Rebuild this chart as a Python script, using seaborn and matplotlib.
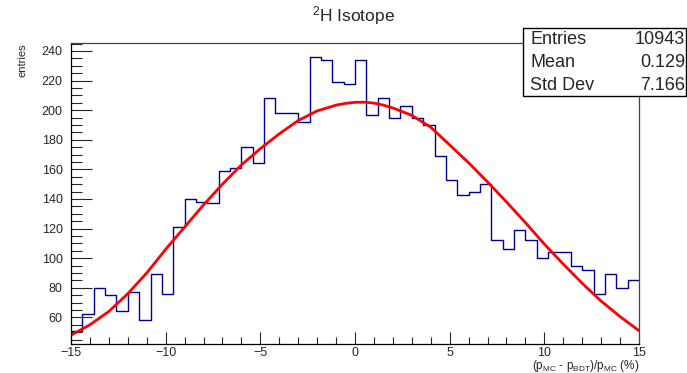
import numpy as np
import pandas as pd
import matplotlib
matplotlib.use("Agg")
import matplotlib.pyplot as plt
from matplotlib.ticker import MultipleLocator
from matplotlib.patches import Rectangle
import seaborn as sns

sns.set_style("ticks")
plt.rcParams['font.family'] = ['Liberation Sans', 'DejaVu Sans']
plt.rcParams['mathtext.fontset'] = 'custom'
plt.rcParams['mathtext.rm'] = 'Liberation Sans'
plt.rcParams['mathtext.it'] = 'Liberation Sans:italic'

# ---- data ----
x_min, x_max, n_bins = -15, 15, 50
counts = [51, 62, 80, 75, 64, 77, 58, 89, 76, 121,
          140, 138, 137, 159, 161, 175, 164, 208, 198, 198,
          192, 236, 234, 219, 218, 234, 197, 208, 195, 203,
          195, 190, 169, 153, 143, 145, 150, 112, 106, 119,
          112, 100, 104, 104, 95, 92, 76, 89, 80, 85]
fit_x = [-15, -14, -13, -12, -11, -10, -9, -8, -7, -6, -5, -4, -3, -2, -1, -0.5, 0,
         0.5, 1, 1.5, 2, 3, 4, 5, 6, 7, 8, 9, 10, 11, 12, 13, 14, 15]
fit_y = [48, 55, 64, 76, 90, 106, 121, 136, 150, 163, 174, 184, 193, 199.5, 203.4, 204.6, 205.3,
         205.4, 204.8, 203.4, 201.5, 196.5, 188.5, 176.5, 164.5, 151.5, 138, 124, 109.5, 96, 83, 71, 60.5, 51]
stat_names = ["Entries", "Mean", "Std Dev"]
stat_values = ["10943", "0.129", "7.166"]
title = r"$^{\mathregular{2}}$H Isotope"
xlabel = r"(p$_{\mathregular{MC}}$ - p$_{\mathregular{BDT}}$)/p$_{\mathregular{MC}}$ (%)"
ylabel = "entries"

edges = np.linspace(x_min, x_max, n_bins + 1)
centers = 0.5 * (edges[:-1] + edges[1:])
df = pd.DataFrame({"x": centers, "w": counts})
fit_df = pd.DataFrame({"x": fit_x, "y": fit_y})

W, H = 687, 373
fig = plt.figure(figsize=(W / 100, H / 100), dpi=100)
fig.patch.set_facecolor("white")
L, R, T, B = 71, 639, 42.7, 344
ax = fig.add_axes([L / W, 1 - B / H, (R - L) / W, (B - T) / H])

sns.histplot(data=df, x="x", weights="w", bins=n_bins, binrange=(x_min, x_max),
             element="step", fill=False, color="#000099", linewidth=1.0, ax=ax)
sns.lineplot(data=fit_df, x="x", y="y", color="#ff0000", linewidth=2.0, ax=ax)

ax.set_xlim(x_min, x_max)
ax.set_ylim(42, 245.6)
ax.set_xlabel("")
ax.set_ylabel("")

ax.xaxis.set_major_locator(MultipleLocator(5))
ax.xaxis.set_minor_locator(MultipleLocator(1))
ax.yaxis.set_minor_locator(MultipleLocator(5))
ax.set_yticks(np.arange(60, 241, 20))
ax.tick_params(axis="x", which="major", direction="in", length=9, width=0.8,
               labelsize=9, pad=2, top=False)
ax.tick_params(axis="x", which="minor", direction="in", length=5, width=0.8, top=False)
ax.tick_params(axis="y", which="major", direction="in", length=15, width=0.8,
               labelsize=9, pad=6, right=False)
ax.tick_params(axis="y", which="minor", direction="in", length=8, width=0.8, right=False)
for s in ax.spines.values():
    s.set_visible(True)
    s.set_linewidth(0.9)
    s.set_color("black")
ax.spines["top"].set_color("#444444")
ax.spines["right"].set_color("#444444")

fig.text(353 / W, 1 - 21.7 / H, title, ha="center", va="baseline", fontsize=12.5)
fig.text(23 / W, 1 - 43 / H, ylabel, rotation=90, ha="center", va="top", fontsize=8)
fig.text(639 / W, 1 - 368.5 / H, xlabel, ha="right", va="baseline", fontsize=8.5)

box = Rectangle((522.7 / W, 1 - 96 / H), (686 - 522.7) / W, (96 - 28.3) / H,
                transform=fig.transFigure, facecolor="white", edgecolor="black",
                linewidth=1.0, zorder=10)
fig.patches.append(box)
for name, val, yy in zip(stat_names, stat_values, [40, 62.5, 85]):
    fig.text(530 / W, 1 - yy / H, name, ha="left", va="center", fontsize=13, zorder=11)
    fig.text(685 / W, 1 - yy / H, val, ha="right", va="center", fontsize=13, zorder=11)

fig.savefig("out.png", dpi=100)
